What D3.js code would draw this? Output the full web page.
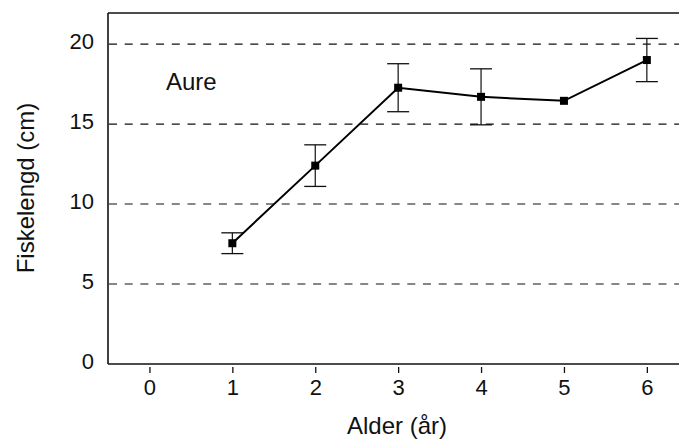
<!DOCTYPE html>
<html>
<head>
<meta charset="utf-8">
<script src="https://cdn.jsdelivr.net/npm/d3@7"></script>
<style>
  body { margin: 0; background: #fff; }
  text { font-family: "Liberation Sans", Arial, sans-serif; fill: #111; }
</style>
</head>
<body>
<svg id="chart" width="679" height="441"></svg>
<script>
// fish length by age (Aure)
var ages = [1, 2, 3, 4, 5, 6];
var meanLength = [7.55, 12.4, 17.27, 16.7, 16.45, 19.0];
var errLength = [0.65, 1.3, 1.5, 1.75, 0, 1.35];
var xTicks = [0, 1, 2, 3, 4, 5, 6];
var yTicks = [0, 5, 10, 15, 20];
var gridValues = [5, 10, 15, 20];

var svg = d3.select("#chart");

var plotLeft = 108, plotTop = 13, plotBottom = 364;

var x = d3.scaleLinear().domain([-0.5, 6.5]).range([plotLeft, plotLeft + 7 * 82.9]);
var y = d3.scaleLinear().domain([0, 21.94]).range([plotBottom, plotTop]);

var pts = ages.map(function(a, i) {
  return {age: a, mean: meanLength[i], err: errLength[i]};
});

// dashed grid
svg.append("g")
  .attr("class", "grid")
  .selectAll("line")
  .data(gridValues)
  .enter().append("line")
  .attr("x1", plotLeft + 1)
  .attr("x2", 679)
  .attr("y1", function(d) { return y(d); })
  .attr("y2", function(d) { return y(d); })
  .attr("stroke", "#111")
  .attr("stroke-width", 1.2)
  .attr("stroke-dasharray", "8,7.7");

// frame: left, top, bottom
svg.append("line")
  .attr("x1", plotLeft).attr("x2", plotLeft)
  .attr("y1", plotTop).attr("y2", plotBottom)
  .attr("stroke", "#111").attr("stroke-width", 1.6);
svg.append("line")
  .attr("x1", plotLeft).attr("x2", 679)
  .attr("y1", plotTop).attr("y2", plotTop)
  .attr("stroke", "#111").attr("stroke-width", 1.6);

var xAxis = svg.append("g")
  .attr("transform", "translate(0," + plotBottom + ")")
  .call(d3.axisBottom(x).tickValues(xTicks).tickSize(9).tickPadding(6).tickFormat(d3.format("d")));
xAxis.select(".domain").attr("d", "M" + plotLeft + ",0H679").attr("stroke", "#111").attr("stroke-width", 1.6);
xAxis.selectAll(".tick line").attr("stroke", "#111").attr("stroke-width", 1.3)
  .attr("y1", 3);
xAxis.selectAll(".tick text")
  .attr("font-size", 22)
  .attr("font-family", "Liberation Sans, Arial, sans-serif")
  .attr("fill", "#111");

var yAxis = svg.append("g")
  .attr("transform", "translate(" + plotLeft + ",0)")
  .call(d3.axisLeft(y).tickValues(yTicks).tickSize(0).tickPadding(14));
yAxis.select(".domain").remove();
yAxis.selectAll(".tick text")
  .attr("font-size", 22)
  .attr("dy", "0.2em")
  .attr("font-family", "Liberation Sans, Arial, sans-serif")
  .attr("fill", "#111");

// error bars
var capW = 11;
var eb = svg.append("g").attr("class", "errorbars")
  .selectAll("g")
  .data(pts.filter(function(d) { return d.err > 0; }))
  .enter().append("g");
eb.append("line")
  .attr("x1", function(d) { return x(d.age); })
  .attr("x2", function(d) { return x(d.age); })
  .attr("y1", function(d) { return y(d.mean + d.err); })
  .attr("y2", function(d) { return y(d.mean - d.err); })
  .attr("stroke", "#111").attr("stroke-width", 1.2);
eb.append("line")
  .attr("x1", function(d) { return x(d.age) - capW; })
  .attr("x2", function(d) { return x(d.age) + capW; })
  .attr("y1", function(d) { return y(d.mean + d.err); })
  .attr("y2", function(d) { return y(d.mean + d.err); })
  .attr("stroke", "#111").attr("stroke-width", 1.3);
eb.append("line")
  .attr("x1", function(d) { return x(d.age) - capW; })
  .attr("x2", function(d) { return x(d.age) + capW; })
  .attr("y1", function(d) { return y(d.mean - d.err); })
  .attr("y2", function(d) { return y(d.mean - d.err); })
  .attr("stroke", "#111").attr("stroke-width", 1.3);

// line
var line = d3.line()
  .x(function(d) { return x(d.age); })
  .y(function(d) { return y(d.mean); });
svg.append("path")
  .datum(pts)
  .attr("d", line)
  .attr("fill", "none")
  .attr("stroke", "#000")
  .attr("stroke-width", 2);

// markers
var ms = 8;
svg.append("g").selectAll("rect")
  .data(pts)
  .enter().append("rect")
  .attr("x", function(d) { return x(d.age) - ms / 2; })
  .attr("y", function(d) { return y(d.mean) - ms / 2; })
  .attr("width", ms)
  .attr("height", ms)
  .attr("fill", "#000");

// labels
svg.append("text")
  .attr("x", 166).attr("y", 90)
  .attr("font-size", 24)
  .text("Aure");

svg.append("text")
  .attr("x", 397).attr("y", 434)
  .attr("text-anchor", "middle")
  .attr("font-size", 24)
  .text("Alder (år)");

svg.append("text")
  .attr("transform", "translate(34,188) rotate(-90)")
  .attr("text-anchor", "middle")
  .attr("font-size", 24)
  .text("Fiskelengd (cm)");
</script>
</body>
</html>
